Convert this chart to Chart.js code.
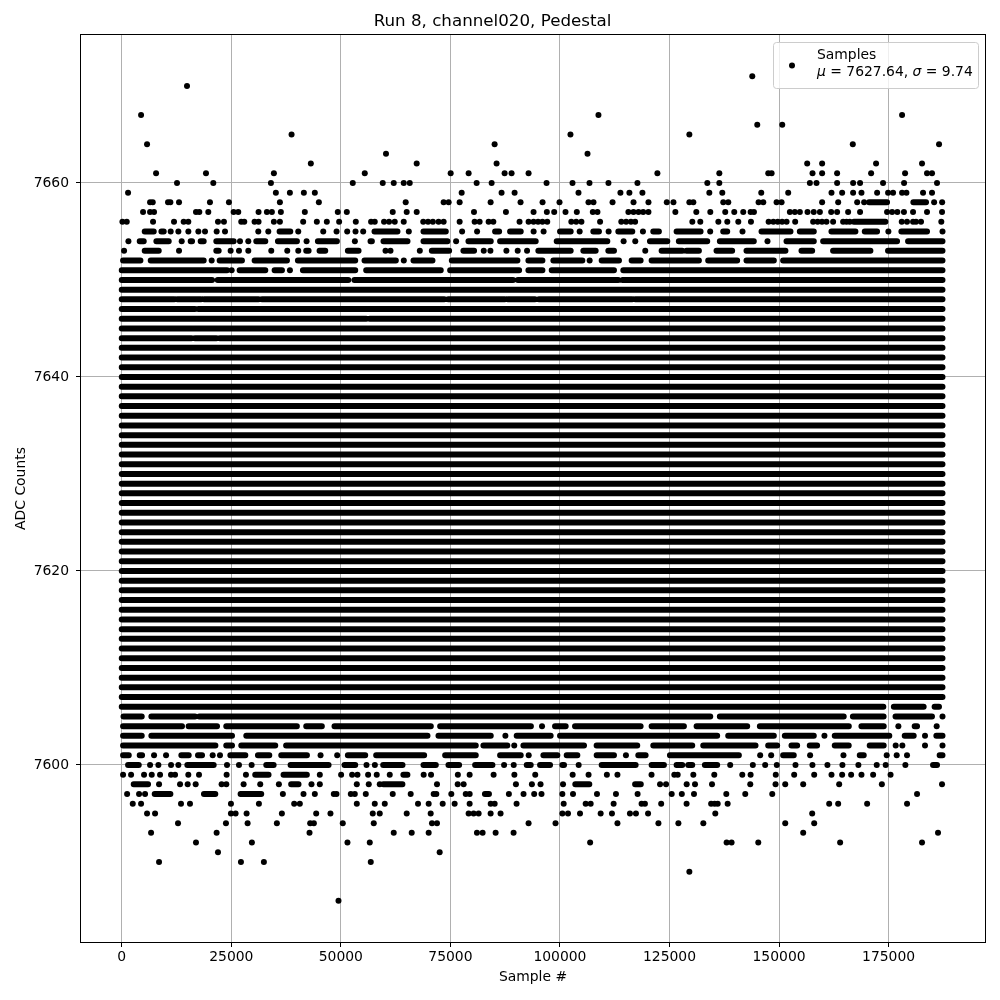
<!DOCTYPE html>
<html>
<head>
<meta charset="utf-8">
<script src="https://cdn.jsdelivr.net/npm/chart.js@4.4.1/dist/chart.umd.min.js"></script>
<style>
html,body{margin:0;padding:0;background:#fff;}
#wrap{width:1000px;height:1000px;}
</style>
</head>
<body>
<div id="wrap"><canvas id="c" width="1000" height="1000"></canvas></div>
<script>
// ---------------- DATA ----------------
const titleText = 'Run 8, channel020, Pedestal';
const xLabel = 'Sample #';
const yLabel = 'ADC Counts';
const seriesLabel = 'Samples';
const meanValue = 7627.64;
const sigmaValue = 9.74;

const xTicks = [0, 25000, 50000, 75000, 100000, 125000, 150000, 175000];
const yTicks = [7600, 7620, 7640, 7660];
const xMin = -9300, xMax = 197000;
const yMin = 7581.75, yMax = 7675.25;

const firstSample = 0;
const lastSample = 187300;

// ADC levels where samples fill the whole run
const solidLevels = [7607, 7608, 7609, 7610, 7611, 7612, 7613, 7614, 7615, 7616, 7617, 7618, 7619, 7620,
  7621, 7622, 7623, 7624, 7625, 7626, 7627, 7628, 7629, 7630, 7631, 7632, 7633, 7634, 7635, 7636,
  7637, 7638, 7639, 7640, 7641, 7642, 7643, 7645, 7649];

// ADC levels with continuous stretches of samples (sample-number spans)
const runLevels = [7606, 7605, 7604, 7603, 7602, 7601, 7600, 7599, 7598, 7597,
  7644, 7646, 7647, 7648, 7650, 7651, 7652, 7653, 7654, 7655, 7656, 7658];
const runSpans = [
  [[0,173800],[176200,183000],[185500,186500]],
  [[400,4560],[6760,16720],[17700,134300],[136490,164760],[166850,173860],[176580,184900]],
  [[300,13750],[15260,21740],[23850,39960],[42100,45660],[48550,70530],[72660,93370],[98880,101310],[103440,118410],[120920,128290],[131180,142730],[145620,165920],[168800,173890],[180950,181490]],
  [[300,4560],[6760,25160],[28420,69770],[72280,84210],[90130,97880],[100020,135880],[138400,148810],[151320,157930],[162710,175160],[178680,180730],[185900,187300]],
  [[300,21370],[23850,25160],[27280,35030],[37510,80790],[82530,87990],[91660,105490],[108370,117640],[121300,130190],[132700,144630],[147520,149570],[152840,154130],[157010,158680],[162710,165900],[170690,173880]],
  [[300,1600],[4100,4640],[13600,15280],[17400,18320],[24780,28200],[31080,33670],[36400,42260],[51600,55560],[58060,69010],[73800,80790],[86340,91050],[96220,99410],[101540,103970],[108380,112330],[117880,119550],[125100,140830],[150930,153360],[168420,169330],[186650,187300]],
  [[1440,3880],[14970,20980],[32980,34660],[38530,47200],[50840,53280],[59660,64070],[68860,71670],[74560,76990],[80640,84590],[92420,93330],[95460,97740],[100550,100930],[109520,117270],[120920,123730],[126620,127910],[129280,130190],[133070,135880],[185140,186050]],
  [[30460,33500],[36920,42240],[64270,65190]],
  [[2730,6000],[38660,40340],[59700,64050],[103500,106700],[117150,118450]],
  [[7520,11100],[18760,21350],[27120,31830],[82880,83800]],
  [[0,15900],[16700,21600],[22400,187300]],
  [[0,55800],[56600,187300]],
  [[0,16700],[17500,187300]],
  [[0,12000],[12700,18100],[18800,31200],[32000,73600],[74500,87400],[88100,94300],[95200,116500],[117200,187300]],
  [[0,20600],[21900,51700],[53100,89300],[90400,113300],[114300,187300]],
  [[0,24020],[26900,32760],[34880,36560],[41340,53280],[55780,72800],[74940,90680],[92800,96000],[98120,112330],[114460,187300]],
  [[300,4260],[6610,18700],[22340,27430],[30320,37700],[40200,53280],[55400,62550],[66580,70910],[75320,90290],[92800,96000],[98500,105110],[109520,113470],[116360,118410],[120920,131710],[133830,140440],[142570,148810],[150930,187300]],
  [[5240,8440],[21580,22120],[34120,34280],[37770,37920],[42100,42640],[45140,46440],[51600,54040],[70760,74710],[77970,80400],[95070,102450],[105340,108150],[111040,112330],[123200,127910],[128890,131710],[135730,139300],[142570,151460],[155120,157560],[162330,170850],[174870,187300]],
  [[4100,5020],[7900,10720],[15730,16040],[18010,18700],[21580,25540],[30700,32760],[35640,39980],[44760,49100],[56770,57080],[59730,65210],[68860,74330],[79120,84210],[86340,94470],[99260,110810],[120540,124500],[127130,133610],[136490,144240],[151700,157930],[160060,176930],[179440,187300]],
  [[5240,7300],[9050,9580],[36020,38460],[57680,62920],[68860,73950],[85200,86120],[88620,91050],[100020,102450],[107620,108900],[113320,116510],[121300,122580],[126620,132090],[137260,138170],[146000,152610],[154740,157930],[161960,167430],[169560,172370],[177920,183770]],
  [[167080,174270]],
  [[170550,174650],[180650,183540]]
];

// ADC levels with isolated samples (sample numbers)
const dotLevels = [7671, 7670, 7667, 7666, 7665, 7664, 7663, 7662, 7661, 7660, 7659, 7658, 7657, 7656,
  7655, 7654, 7653, 7652, 7651, 7605, 7604, 7603, 7602, 7601, 7600, 7599, 7598, 7597, 7596, 7595,
  7594, 7593, 7592, 7591, 7590, 7589, 7586];
const dotSamples = [
  [143890],
  [14890],
  [4410, 108790, 178080],
  [145030, 150730],
  [38750, 102400, 129530],
  [5770, 85090, 166830, 186510],
  [60300, 106290],
  [43150, 67310, 85540, 156420, 159830, 172140, 182630],
  [7830, 19220, 34720, 55460, 75060, 79160, 87370, 88960, 92840, 122240, 136370, 147540, 148300, 157640, 159830, 163250, 171010, 178760, 183770, 184910],
  [12610, 20890, 34040, 52720, 59560, 62070, 64350, 65720, 80990, 84410, 96940, 102870, 106740, 111070, 117680, 133630, 136370, 157030, 158550, 163250, 166900, 168490, 173730, 178530, 186050],
  [1440, 35170, 38370, 41560, 44060, 77570, 86680, 89650, 104230, 113800, 115850, 118820, 134090, 137050, 145940, 152090, 161970, 164400, 166900, 168810, 172380, 174880, 176020, 178080, 179070, 182860, 184910],
  [6460, 7070, 10560, 11090, 13070, 20130, 24460, 36090, 44980, 64800, 73460, 74600, 77110, 84180, 91010, 96030, 99900, 106510, 107650, 112000, 116790, 120200, 124380, 125900, 129530, 130440, 137270, 138410, 145330, 146400, 149440, 150580, 159830, 163490, 167830, 169420, 185390, 187220],
  [4860, 6460, 7370, 16940, 17700, 19750, 25530, 26590, 31220, 33120, 34260, 36310, 41780, 49300, 51360, 61840, 65030, 67310, 80380, 87670, 93980, 97010, 98690, 101270, 103850, 107500, 108560, 115620, 116790, 117930, 119000, 120200, 126340, 131120, 134310, 137720, 139780, 141830, 143510, 144270, 152470, 153600, 154750, 156500, 157920, 159320, 161900, 163250, 165760, 168490, 174650, 175800, 177000, 178500, 180580, 183770, 187200],
  [150, 1140, 7140, 11930, 14130, 15190, 21960, 23320, 27270, 27960, 30310, 31220, 34720, 36090, 41400, 44520, 46800, 49610, 53410, 56900, 57740, 59860, 61000, 62300, 64350, 68800, 69900, 71000, 72300, 73460, 77110, 80530, 81670, 83720, 84800, 90780, 92840, 93980, 95000, 96000, 97100, 102600, 103700, 104900, 109160, 114000, 115100, 116200, 117150, 130210, 132030, 136150, 138190, 140700, 143590, 147620, 148700, 149700, 150700, 151720, 153680, 157780, 158800, 159800, 160820, 162340, 164620, 165400, 166140, 178000, 179200, 180580, 181260, 182400, 187030],
  [11170, 12920, 15200, 17480, 19000, 21660, 23560, 31160, 33440, 40280, 45980, 49020, 51450, 53350, 55100, 65510, 77670, 81090, 93990, 96270, 104500, 111110, 118940, 134290, 141660, 174950, 187300],
  [1520, 13680, 26980, 28880, 42180, 53200, 76300, 114530, 117190, 147360],
  [530, 13070, 24850, 26750, 28880, 40280, 60190, 61330, 68020, 82610, 84130, 87780, 90360, 92490, 119470],
  [20520, 64370, 106780],
  [25080, 38380],
  [187300],
  [95910, 177230, 185970],
  [87550, 160360, 183310],
  [89570, 176620, 178140, 183310, 187300],
  [7370, 10110, 20750, 22420, 45370, 49170, 92870, 115060, 145690, 148200, 157090, 164700, 174570, 176850, 179200],
  [6460, 8360, 11250, 12920, 24020, 26750, 29640, 55860, 57760, 87250, 89450, 104270, 138850, 144020, 146830, 149490, 153750, 157620, 161040, 164460, 168110, 172290, 174340, 178830],
  [300, 2130, 5090, 6840, 8740, 11240, 12160, 15190, 17630, 23930, 28340, 45200, 50060, 52570, 53790, 56220, 58190, 61160, 68900, 70580, 76700, 79390, 84860, 89600, 94360, 102900, 106530, 110710, 113120, 120900, 126100, 126870, 130440, 135220, 141610, 143510, 149250, 153450, 158020, 161970, 164400, 166450, 168810, 171470, 175450],
  [8510, 13300, 15040, 16870, 22790, 23860, 27810, 31600, 35860, 43300, 45200, 53640, 56370, 58880, 71940, 76670, 78020, 89950, 93600, 95570, 100700, 122840, 124210, 128920, 130820, 134700, 143430, 149200, 151410, 155510, 163720, 173460, 187190],
  [1220, 3950, 5320, 36770, 41480, 44060, 48390, 49000, 52270, 53180, 55690, 61840, 65940, 71180, 71790, 75210, 78500, 79400, 88350, 91690, 94120, 95790, 100550, 102980, 108450, 112780, 117720, 125500, 127810, 130590, 137960, 142290, 148450, 181490],
  [2510, 4410, 13520, 15570, 24920, 31300, 39350, 40640, 53640, 57740, 60020, 67610, 70040, 73240, 75970, 79390, 84200, 85100, 90100, 100850, 105870, 107010, 112250, 118630, 119390, 123100, 128900, 134500, 135300, 136000, 138270, 161440, 163490, 170100, 179210],
  [5770, 7600, 24920, 25980, 28490, 36540, 44370, 47630, 57280, 58880, 65030, 70500, 79160, 80300, 81440, 84180, 86450, 100550, 101840, 104580, 109290, 111870, 115970, 117340, 120110, 135450, 157560],
  [12840, 23780, 28720, 35400, 43000, 43840, 50440, 57510, 70800, 71940, 92840, 98990, 113120, 122470, 127030, 132720, 151410, 158020],
  [6690, 21650, 42850, 62070, 66170, 70040, 81060, 82350, 85320, 89420, 155510, 186280],
  [16940, 29700, 51510, 56600, 106890, 138030, 139170, 145260, 163940, 182630],
  [21960, 72550],
  [8510, 27200, 32440, 56830],
  [129530],
  [49460]
];

// ---------------- BUILD ----------------
const FONT = "'DejaVu Sans', Verdana, sans-serif";

const runData = [];
function addSpans(level, spans) {
  spans.forEach(function (sp) {
    runData.push({x: sp[0], y: level}, {x: sp[1], y: level}, {x: sp[1], y: null});
  });
}
solidLevels.forEach(function (l) { addSpans(l, [[firstSample, lastSample]]); });
runLevels.forEach(function (l, i) { addSpans(l, runSpans[i]); });

const dotData = [];
dotLevels.forEach(function (l, i) {
  dotSamples[i].forEach(function (s) { dotData.push({x: s, y: l}); });
});

const framePlugin = {
  id: 'mplFrame',
  afterDraw(chart) {
    const c = chart.ctx, a = chart.chartArea;
    c.save();
    c.strokeStyle = '#000';
    c.lineWidth = 1;
    const l = Math.round(a.left) - 0.5, t = Math.round(a.top) - 0.5;
    const r = Math.round(a.right) + 0.5, b = Math.round(a.bottom) + 0.5;
    c.strokeRect(l, t, r - l, b - t);
    c.restore();

    // legend (matplotlib style, upper right inside axes)
    c.save();
    const bx = 773.5, by = 42.5, bw = 205, bh = 46, rad = 3;
    c.beginPath();
    c.moveTo(bx + rad, by);
    c.lineTo(bx + bw - rad, by);
    c.arcTo(bx + bw, by, bx + bw, by + rad, rad);
    c.lineTo(bx + bw, by + bh - rad);
    c.arcTo(bx + bw, by + bh, bx + bw - rad, by + bh, rad);
    c.lineTo(bx + rad, by + bh);
    c.arcTo(bx, by + bh, bx, by + bh - rad, rad);
    c.lineTo(bx, by + rad);
    c.arcTo(bx, by, bx + rad, by, rad);
    c.closePath();
    c.fillStyle = 'rgba(255,255,255,0.8)';
    c.fill();
    c.strokeStyle = '#cccccc';
    c.lineWidth = 1;
    c.stroke();

    c.beginPath();
    c.arc(792, 65.5, 3, 0, Math.PI * 2);
    c.fillStyle = '#000';
    c.fill();

    c.fillStyle = '#000';
    c.textBaseline = 'alphabetic';
    c.textAlign = 'left';
    const norm = '13.9px ' + FONT, ital = 'italic 13.9px ' + FONT;
    c.font = norm;
    c.fillText(chart.data.datasets[0].label, 817, 58.5);
    const parts = [
      [ital, '\u03bc'], [norm, ' = ' + meanValue.toFixed(2) + ', '],
      [ital, '\u03c3'], [norm, ' = ' + sigmaValue.toFixed(2)]
    ];
    let x = 817;
    parts.forEach(function (p) {
      c.font = p[0];
      c.fillText(p[1], x, 75.5);
      x += c.measureText(p[1]).width;
    });
    c.restore();
  }
};

new Chart(document.getElementById('c').getContext('2d'), {
  type: 'scatter',
  data: {
    datasets: [
      {
        label: seriesLabel,
        data: dotData,
        showLine: false,
        pointRadius: 3,
        pointHoverRadius: 3,
        pointBorderWidth: 0,
        pointBackgroundColor: '#000',
        backgroundColor: '#000',
        borderColor: '#000'
      },
      {
        label: seriesLabel + ' (continuous)',
        data: runData,
        showLine: true,
        spanGaps: false,
        pointRadius: 0,
        pointHoverRadius: 0,
        borderColor: '#000',
        borderWidth: 6,
        borderCapStyle: 'round',
        fill: false,
        tension: 0
      }
    ]
  },
  options: {
    responsive: false,
    animation: false,
    devicePixelRatio: 1,
    events: [],
    layout: {padding: {left: 0, right: 15, top: 0, bottom: 0}},
    plugins: {
      legend: {display: false},
      tooltip: {enabled: false},
      title: {
        display: true,
        text: titleText,
        color: '#000',
        font: {family: FONT, size: 16.7, weight: 'normal'},
        padding: {top: 12, bottom: 3}
      }
    },
    scales: {
      x: {
        type: 'linear',
        position: 'bottom',
        min: xMin,
        max: xMax,
        afterFit(s) { s.height = 58; },
        afterBuildTicks(s) { s.ticks = xTicks.map(function (v) { return {value: v}; }); },
        ticks: {color: '#000', font: {family: FONT, size: 13.9}, padding: 2, maxRotation: 0, autoSkip: false,
          callback: function (v) { return String(v); }},
        grid: {color: '#b0b0b0', lineWidth: 1, tickColor: '#000', tickLength: 5, drawTicks: true},
        border: {display: false},
        title: {display: true, text: xLabel, color: '#000', font: {family: FONT, size: 13.9}, padding: {top: 0, bottom: 14.7}}
      },
      y: {
        type: 'linear',
        position: 'left',
        min: yMin,
        max: yMax,
        afterFit(s) { s.width = 81; },
        afterBuildTicks(s) { s.ticks = yTicks.map(function (v) { return {value: v}; }); },
        ticks: {color: '#000', font: {family: FONT, size: 13.9}, padding: 7, autoSkip: false,
          callback: function (v) { return String(v); }},
        grid: {color: '#b0b0b0', lineWidth: 1, tickColor: '#000', tickLength: 5, drawTicks: true},
        border: {display: false},
        title: {display: true, text: yLabel, color: '#000', font: {family: FONT, size: 13.9}, padding: {top: 12.7, bottom: 0}}
      }
    }
  },
  plugins: [framePlugin]
});
</script>
</body>
</html>
